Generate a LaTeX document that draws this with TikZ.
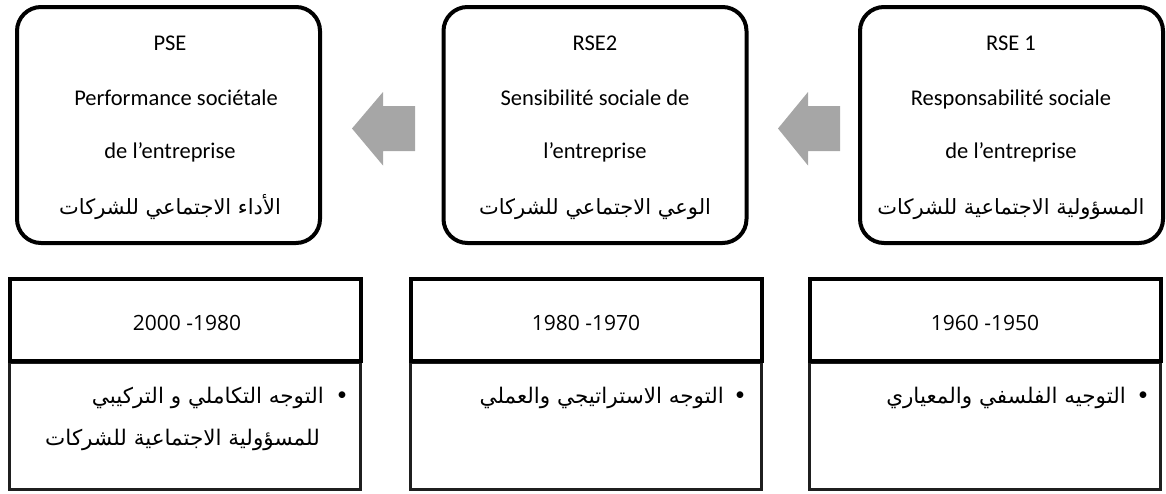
\documentclass[tikz,border=0pt]{standalone}
\usepackage{fontspec}
\setmainfont{Carlito}
\newfontfamily\arabicfont[Script=Arabic]{DejaVu Sans}
\newfontfamily\yearfont{Open Sans}
\TeXXeTstate=1
\tikzset{
  topbox/.style={draw=black, line width=4pt, rounded corners=24pt, minimum width=303pt, minimum height=236pt, inner sep=0pt},
  hdrbox/.style={draw=black, line width=4pt, minimum width=351pt, minimum height=82pt, inner sep=0pt},
  yeartext/.style={inner sep=0pt, anchor=base, font=\yearfont\fontsize{21}{24}\selectfont},
  lowbox/.style={draw=black!88, line width=3pt, minimum width=351pt, minimum height=127pt, inner sep=0pt},
  latinline/.style={inner sep=0pt, anchor=base, font=\fontsize{22.5}{26}\selectfont},
  arline/.style={inner sep=0pt, anchor=base, font=\arabicfont\fontsize{21}{24}\selectfont},
  bulline/.style={inner sep=0pt, anchor=base east, font=\arabicfont\fontsize{21.5}{26}\selectfont},
  bulletmark/.style={inner sep=0pt, font=\fontsize{19}{22}\selectfont},
  arrowfill/.style={fill=black!35, draw=none}
}
\begin{document}
\begin{tikzpicture}[x=1pt,y=-1pt]
\useasboundingbox (0,0) rectangle (1166,493);
% top boxes
\node[topbox] (b1) at (168.5,125) {};
\node[topbox] (b2) at (595,125) {};
\node[topbox] (b3) at (1011.5,125) {};
% box 1 text
\node[latinline] (b1l1) at (170,50) {PSE};
\node[latinline] (b1l2) at (176,105) {Performance sociétale};
\node[latinline] (b1l3) at (170,158) {de l’entreprise};
\node[arline] (b1l4) at (170,214) {\beginR الأداء الاجتماعي للشركات\endR};
% box 2 text
\node[latinline] (b2l1) at (595,50) {RSE2};
\node[latinline] (b2l2) at (595,105) {Sensibilité sociale de};
\node[latinline] (b2l3) at (595,158) {l’entreprise};
\node[arline] (b2l4) at (595,214) {\beginR الوعي الاجتماعي للشركات\endR};
% box 3 text
\node[latinline] (b3l1) at (1011,50) {RSE 1};
\node[latinline] (b3l2) at (1011,105) {Responsabilité sociale};
\node[latinline] (b3l3) at (1011,158) {de l’entreprise};
\node[arline] (b3l4) at (1011,214) {\beginR المسؤولية الاجتماعية للشركات\endR};
% arrows
\coordinate (a1) at (352,128.5);
\coordinate (a2) at (778,128.5);
\fill[arrowfill] (a1) -- ++(31,-36.5) -- ++(0,14) -- ++(32,0) -- ++(0,45) -- ++(-32,0) -- ++(0,14.5) -- cycle;
\fill[arrowfill] (a2) -- ++(30,-36.5) -- ++(0,14) -- ++(32,0) -- ++(0,45) -- ++(-32,0) -- ++(0,14.5) -- cycle;
% bottom boxes
\node[lowbox] (l1) at (185,425.5) {};
\node[lowbox] (l2) at (586,425.5) {};
\node[lowbox] (l3) at (985,425.5) {};
\node[hdrbox] (h1) at (185,320) {};
\node[hdrbox] (h2) at (586,320) {};
\node[hdrbox] (h3) at (985,320) {};
\node[yeartext] (y1) at (187,330) {2000 -1980};
\node[yeartext] (y2) at (586,330) {1980 -1970};
\node[yeartext] (y3) at (985,330) {1960 -1950};
% bullets
\node[bulletmark] (m1) at (342,396) {•};
\node[bulletmark] (m2) at (740,396) {•};
\node[bulletmark] (m3) at (1143,396) {•};
\node[bulline] (t1a) at (324,403) {\beginR التوجه التكاملي و التركيبي\endR};
\node[bulline] (t1b) at (320,445) {\beginR للمسؤولية الاجتماعية للشركات\endR};
\node[bulline] (t2) at (724,403) {\beginR التوجه الاستراتيجي والعملي\endR};
\node[bulline] (t3) at (1126,403) {\beginR التوجيه الفلسفي والمعياري\endR};
\end{tikzpicture}
\end{document}
